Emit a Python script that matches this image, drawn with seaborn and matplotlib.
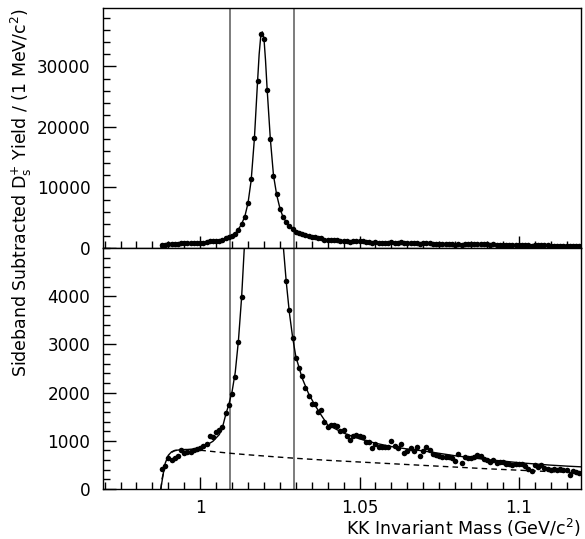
import numpy as np
import pandas as pd
import matplotlib
matplotlib.use("Agg")
import matplotlib.pyplot as plt
import seaborn as sns
from matplotlib.ticker import MultipleLocator, FixedLocator, FixedFormatter

# ---------------- data ----------------
# bin centres: 1 MeV bins, 0.988 ... 1.119 GeV/c^2
mass = np.arange(988, 1120) / 1000.0
yield_ = [
    420, 475, 640, 610, 650, 680, 800, 745, 771, 775,          # 0.988-0.997
    815, 835, 860, 900, 930, 1100, 1076, 1174, 1215, 1285,     # 0.998-1.007
    1580, 1743, 1979, 2333, 3050, 3980, 5180, 7490, 11350, 18180,  # 1.008-1.017
    27650, 35370, 34550, 26070, 18070, 11950, 8870, 6500, 5070, 4320,  # 1.018-1.027
    3708, 3135, 2722, 2514, 2340, 2090, 1930, 1760, 1757, 1597,  # 1.028-1.037
    1640, 1385, 1290, 1333, 1319, 1312, 1200, 1220, 1104, 1010,  # 1.038-1.047
    1090, 1115, 1090, 1088, 980, 968, 847, 940, 870, 868,      # 1.048-1.057
    868, 868, 986, 900, 860, 928, 757, 795, 850, 790,          # 1.058-1.067
    861, 684, 785, 861, 799, 718, 700, 690, 670, 660,          # 1.068-1.077
    665, 645, 575, 725, 535, 667, 646, 639, 667, 705,          # 1.078-1.087
    688, 620, 604, 562, 604, 540, 563, 556, 517, 521,          # 1.088-1.097
    493, 514, 510, 521, 470, 424, 365, 503, 465, 493,          # 1.098-1.107
    442, 420, 396, 410, 403, 413, 403, 389, 292, 382,          # 1.108-1.117
    347, 340,                                                  # 1.118-1.119
]
yield_err = 40.0

fit_mass = [0.9876, 0.988, 0.9885, 0.989, 0.990, 0.991, 0.992, 0.994, 0.996,
            0.998, 1.000, 1.002, 1.004, 1.006, 1.007, 1.008, 1.009, 1.010,
            1.011, 1.012, 1.013, 1.014, 1.015, 1.016, 1.017, 1.018, 1.0185,
            1.019, 1.0195, 1.020, 1.0205, 1.021, 1.022, 1.023, 1.024, 1.025,
            1.026, 1.027, 1.028, 1.029, 1.030, 1.032, 1.034, 1.036, 1.038,
            1.040, 1.045, 1.050, 1.055, 1.060, 1.065, 1.070, 1.075, 1.080,
            1.085, 1.090, 1.095, 1.100, 1.105, 1.110, 1.115, 1.1195]
fit_yield = [0, 150, 350, 530, 700, 770, 800, 815, 820,
             830, 860, 910, 990, 1130, 1280, 1540, 1760, 2020,
             2420, 3080, 3980, 5200, 7400, 11200, 18000, 27500, 32000,
             35000, 35700, 34700, 31000, 26300, 18100, 12000, 8800, 6600,
             5100, 4300, 3650, 3150, 2750, 2300, 1980, 1740, 1530,
             1330, 1160, 1040, 950, 880, 830, 790, 740, 690,
             650, 610, 580, 545, 520, 495, 475, 460]

bg_mass = [0.9877, 0.988, 0.989, 0.990, 0.991, 0.992, 0.994, 0.996, 0.998,
           1.000, 1.005, 1.010, 1.015, 1.020, 1.025, 1.030, 1.040, 1.050,
           1.060, 1.070, 1.080, 1.090, 1.100, 1.110, 1.1195]
bg_yield = [0, 200, 500, 680, 760, 795, 815, 818, 815,
            805, 770, 738, 710, 685, 660, 637, 595, 560,
            525, 490, 455, 420, 390, 360, 335]

cut_lo, cut_hi = 1.0095, 1.0295

x_ticks = [1.0, 1.05, 1.1]
x_tick_labels = ["1", "1.05", "1.1"]
top_yticks = [0, 10000, 20000, 30000]
bot_yticks = [0, 1000, 2000, 3000, 4000]

# ---------------- figure ----------------
sns.set_theme(style="white")
plt.rcParams["font.family"] = ["DejaVu Sans"]
plt.rcParams["mathtext.default"] = "regular"

W, H = 585, 539
fig = plt.figure(figsize=(W / 100, H / 100), dpi=100)
ax_top = fig.add_axes([103 / W, 1 - 248 / H, 478 / W, 240 / H])
ax_bot = fig.add_axes([103 / W, 1 - 489 / H, 478 / W, 241 / H], sharex=ax_top)

df = pd.DataFrame({"mass": mass, "yield": yield_})
fit_df = pd.DataFrame({"mass": fit_mass, "yield": fit_yield})
bg_df = pd.DataFrame({"mass": bg_mass, "yield": bg_yield})

for ax, ylim in ((ax_top, 39650), (ax_bot, 5000)):
    ax.errorbar(df["mass"], df["yield"], yerr=yield_err, fmt="none",
                ecolor="black", elinewidth=1.0, capsize=0, zorder=3)
    sns.scatterplot(data=df, x="mass", y="yield", ax=ax, color="black",
                    s=16, edgecolor="black", linewidth=0, zorder=4)
    sns.lineplot(data=fit_df, x="mass", y="yield", ax=ax, color="black",
                 lw=1.0, estimator=None, sort=False, zorder=5)
    for c in (cut_lo, cut_hi):
        ax.axvline(c, color="#666666", lw=1.2, zorder=2)
    ax.set_xlim(0.9695, 1.1195)
    ax.set_ylim(0, ylim)
    ax.set_xlabel("")
    ax.set_ylabel("")
    for s in ax.spines.values():
        s.set_color("black")
        s.set_linewidth(1.0)
    ax.xaxis.set_major_locator(FixedLocator(x_ticks))
    ax.xaxis.set_minor_locator(MultipleLocator(0.005))
    ax.tick_params(axis="both", which="both", direction="in",
                   top=False, right=False, bottom=True, left=True,
                   colors="black", labelsize=12.2)
    ax.tick_params(which="major", length=9, width=1.0)
    ax.tick_params(which="minor", length=5, width=1.0)
    ax.tick_params(axis="y", pad=9)
    ax.tick_params(axis="x", pad=7)

sns.lineplot(data=bg_df, x="mass", y="yield", ax=ax_bot, color="black",
             lw=1.0, estimator=None, sort=False, zorder=5, linestyle=(0, (4, 3)))
ax_bot.set_xlabel("")
ax_bot.set_ylabel("")

ax_top.yaxis.set_major_locator(FixedLocator(top_yticks))
ax_top.yaxis.set_minor_locator(MultipleLocator(2000))
ax_bot.yaxis.set_major_locator(FixedLocator(bot_yticks))
ax_bot.yaxis.set_minor_locator(MultipleLocator(200))
ax_top.tick_params(axis="x", labelbottom=False)
ax_bot.xaxis.set_major_formatter(FixedFormatter(x_tick_labels))

fig.text(21 / W, 1 - 8 / H,
         r"Sideband Subtracted D$_{s}^{+}$ Yield / (1 MeV/c$^{2}$)",
         rotation=90, ha="center", va="top", fontsize=12.5, color="black")
fig.text(581 / W, 1 - 528 / H, r"KK Invariant Mass (GeV/c$^{2}$)",
         ha="right", va="center", fontsize=12.5, color="black")

fig.savefig("out.png", dpi=100)
